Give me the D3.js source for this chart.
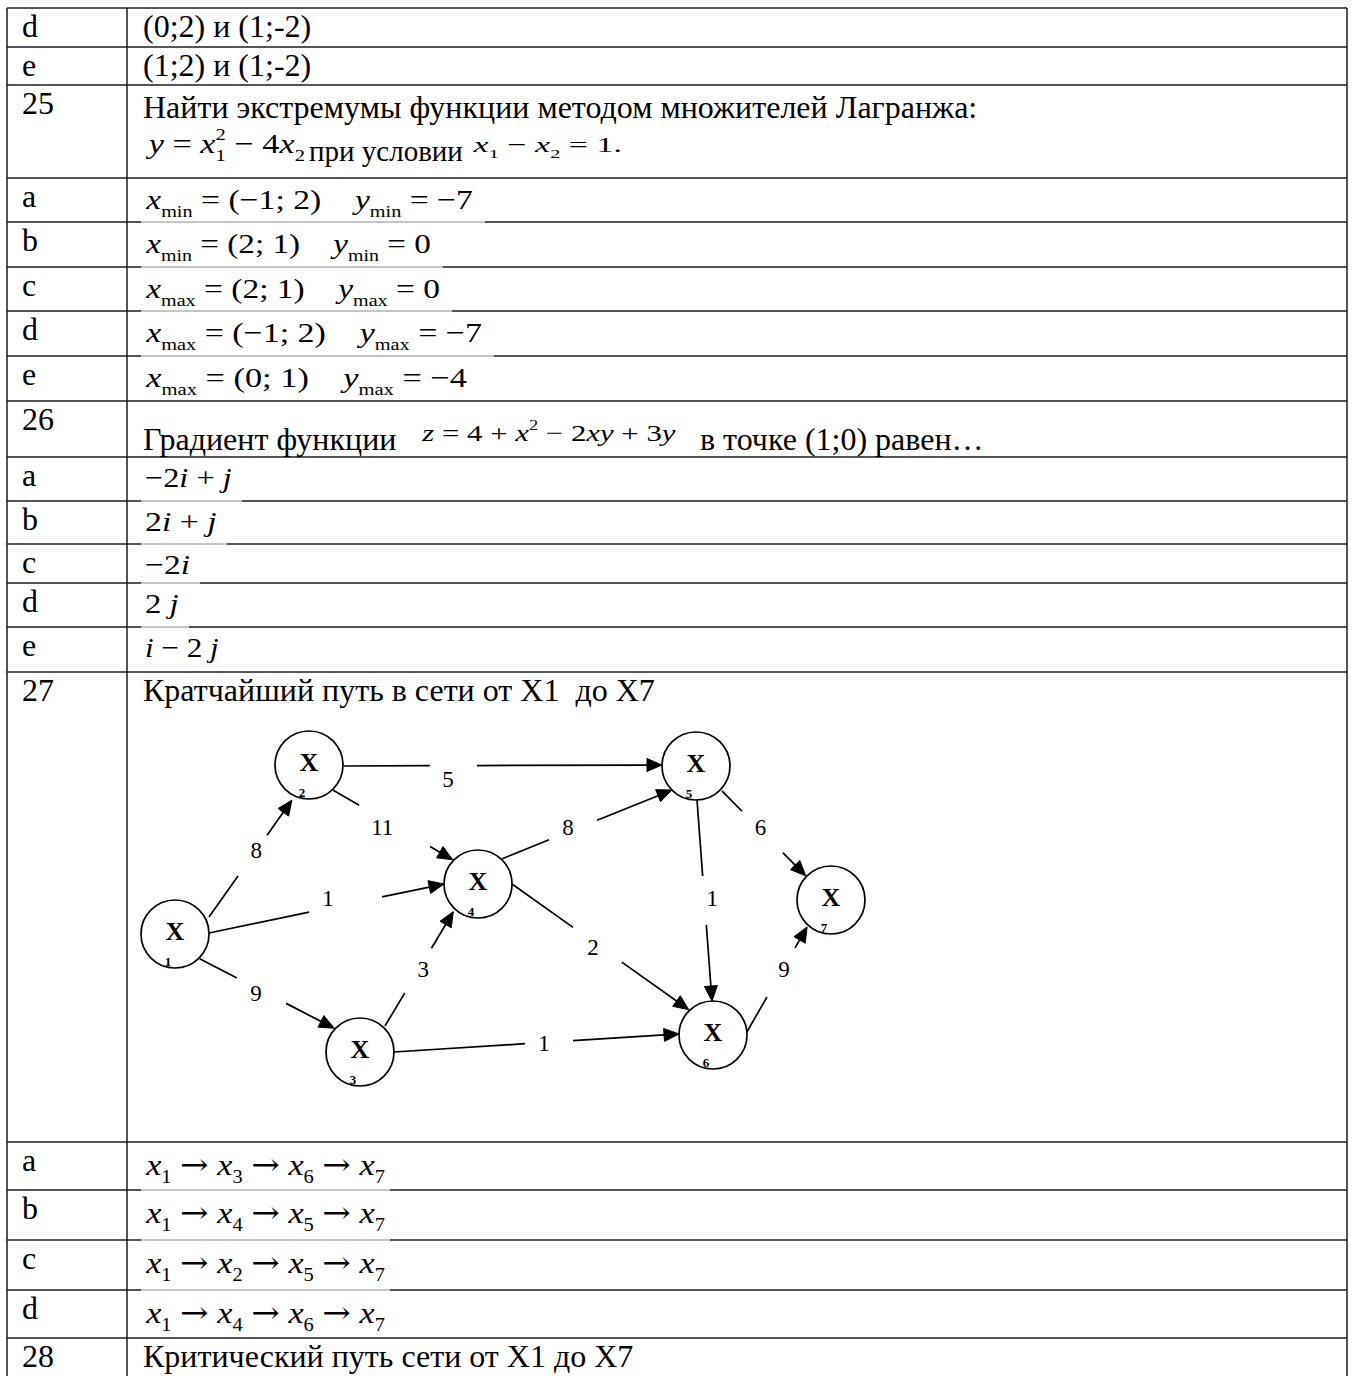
<!DOCTYPE html>
<html><head><meta charset="utf-8">
<script src="https://cdn.jsdelivr.net/npm/d3@7"></script>
<style>body{margin:0;background:#fff}svg{display:block}text{white-space:pre}</style>
</head><body><svg id="c" width="1354" height="1376"></svg>
<script>
// ---------- DATA ----------
const rowLabels = ["d","e","25","a","b","c","d","e","26","a","b","c","d","e","27","a","b","c","d","28"];
const q24Options = ["(0;2) и (1;-2)", "(1;2) и (1;-2)"];
const q25Text = "Найти экстремумы функции методом множителей Лагранжа:";
const q25Func = "y = x_{1}^{2} − 4x_{2}";
const q25Cond = "при условии";
const q25Constraint = "x_{1} − x_{2} = 1.";
const q25Options = [
  "x_{min} = (−1; 2)    y_{min} = −7",
  "x_{min} = (2; 1)    y_{min} = 0",
  "x_{max} = (2; 1)    y_{max} = 0",
  "x_{max} = (−1; 2)    y_{max} = −7",
  "x_{max} = (0; 1)    y_{max} = −4"
];
const q26Lead = "Градиент функции";
const q26Func = "z = 4 + x^{2} − 2xy + 3y";
const q26Tail = "в точке (1;0) равен…";
const q26Options = ["−2i + j", "2i + j", "−2i", "2 j", "i − 2 j"];
const q27Text = "Кратчайший путь в сети от X1  до X7";
const q27Options = [
  "x_{1} → x_{3} → x_{6} → x_{7}",
  "x_{1} → x_{4} → x_{5} → x_{7}",
  "x_{1} → x_{2} → x_{5} → x_{7}",
  "x_{1} → x_{4} → x_{6} → x_{7}"
];
const q28Text = "Критический путь сети от X1 до X7";

// network (node layout coordinates in graph units)
const nodeIds = [1,2,3,4,5,6,7];
const nodeGX  = [35,169,220,338,556,573,691];
const nodeGY  = [204,35,322,154,36,305,170];
const edgeFrom   = [1,1,1,2,2,3,3,4,4,5,5,6];
const edgeTo     = [2,4,3,4,5,4,6,5,6,6,7,7];
const edgeWeight = [8,1,9,11,5,3,1,8,2,1,6,9];

// ---------- LAYOUT ----------
const rowHeights = [39,38,93,44,45,44,45,45,56,44,43,39,44,45,470,48,50,50,48,60];
const tableLeft = 7, colDiv = 127, tableRight = 1347, tableTop = 8;
const serif = '"Liberation Serif","Times New Roman",serif';
const FS = 32;
const q25OptW = [328,286,295,337,322];
const q26OptW = [87,72,45,34,74];
const q27OptW = [240,240,240,240];
const edgeLayout = [
  {a0:-26.6,d0:38,a1:115.9,d1:39,g0:.35,g1:.70,tl:.571,ox:0,oy:0},
  {a0:-1.7,d0:34,a1:180,d1:34,g0:.426,g1:.736,tl:.506,ox:0,oy:-10},
  {a0:45,d0:35,a1:-137.3,d1:35,g0:.276,g1:.642,tl:.418,ox:0,oy:5},
  {a0:46.2,d0:35,a1:-136.2,d1:35,g0:.217,g1:.81,tl:.41,ox:0,oy:8},
  {a0:1.6,d0:35,a1:181.7,d1:34,g0:.27,g1:.418,tl:.327,ox:0,oy:13},
  {a0:-46.1,d0:36,a1:131.8,d1:37,g0:.29,g1:.68,tl:.5,ox:4,oy:0},
  {a0:0,d0:34,a1:181.7,d1:34,g0:.46,g1:.628,tl:.526,ox:0,oy:0},
  {a0:-46.2,d0:35,a1:135,d1:34,g0:.276,g1:.559,tl:.388,ox:0,oy:-5},
  {a0:0,d0:34,a1:-133.8,d1:35,g0:.345,g1:.621,tl:.458,ox:0,oy:5},
  {a0:88.3,d0:34,a1:-91.7,d1:34,g0:.378,g1:.622,tl:.488,ox:8,oy:0},
  {a0:43.9,d0:36,a1:-136.2,d1:35,g0:.238,g1:.726,tl:.46,ox:0,oy:-3},
  {a0:-5,d0:34,a1:131.6,d1:36,g0:.333,g1:.80,tl:.6,ox:1,oy:0}
];

const svg = d3.select('#c');

function parseMath(s){
  const runs=[]; let i=0;
  while(i<s.length){
    const c=s[i];
    if((c==='_'||c==='^') && s[i+1]==='{'){
      const j=s.indexOf('}',i);
      runs.push({text:s.slice(i+2,j),style:'n',level:c==='_'?-1:1});
      i=j+1; continue;
    }
    const st=/[a-zA-Z]/.test(c)?'i':(c==='→'?'a':'n');
    const last=runs[runs.length-1];
    if(last && last.level===0 && last.style===st) last.text+=c;
    else runs.push({text:c,style:st,level:0});
    i++;
  }
  return runs;
}

function drawMath(parent, str, x0, y, size, targetW){
  const t=parent.append('text').attr('font-family',serif).attr('font-size',size).attr('fill','#000');
  let shift=0, prev=null;
  parseMath(str).forEach(r=>{
    const fs=r.level?size*0.6:size;
    const tgt=r.level===-1?size*0.27:(r.level===1?-size*0.45:0);
    const ts=t.append('tspan').attr('font-size',fs)
      .attr('font-style',r.style==='i'?'italic':'normal')
      .attr('dy',tgt-shift).text(r.text);
    if(r.style==='a') ts.attr('font-family','"DejaVu Serif",serif');
    if(r.level===1 && prev && prev.level===-1) ts.attr('dx',-prev.node.getComputedTextLength());
    shift=tgt; prev={level:r.level,node:ts.node()};
  });
  const bb=t.node().getBBox();
  const sx=targetW?targetW/bb.width:1;
  t.attr('transform',`translate(${x0-bb.x*sx},${y}) scale(${sx},1)`);
  return x0+(targetW||bb.width);
}
function drawText(parent,str,x,y,size){
  return parent.append('text').attr('x',x).attr('y',y).attr('font-family',serif)
    .attr('font-size',size||FS).attr('fill','#000').text(str);
}

function render(){
  const tops=[tableTop]; rowHeights.forEach((h,i)=>tops.push(tops[i]+h));
  const gridG=svg.append('g');
  const textG=svg.append('g');

  gridG.selectAll('line.h').data(rowLabels).join('line').attr('class','h')
    .attr('x1',tableLeft).attr('x2',tableRight)
    .attr('y1',(d,i)=>tops[i]).attr('y2',(d,i)=>tops[i])
    .attr('stroke','#1c1c1c').attr('stroke-width',1.5);
  gridG.selectAll('line.v').data([tableLeft,colDiv,tableRight]).join('line').attr('class','v')
    .attr('x1',d=>d).attr('x2',d=>d).attr('y1',tableTop).attr('y2',1376)
    .attr('stroke','#1c1c1c').attr('stroke-width',1.5);

  textG.selectAll('text.lab').data(rowLabels).join('text').attr('class','lab')
    .attr('x',22).attr('y',(d,i)=>tops[i]+29)
    .attr('font-family',serif).attr('font-size',FS).text(d=>d);

  const X0=143;
  q24Options.forEach((s,i)=>drawText(textG,s,X0,tops[i]+29));
  drawText(textG,q25Text,X0,tops[2]+33);
  drawMath(textG,q25Func,145,tops[2]+68,28,160);
  drawText(textG,q25Cond,309,tops[2]+76,29);
  drawMath(textG,q25Constraint,472,tops[2]+67,22,150);
  const lightSegs=[];
  q25Options.forEach((s,i)=>{
    const r=3+i; const end=drawMath(textG,s,145,tops[r]+31,28,q25OptW[i]);
    if(i<4) lightSegs.push({y:tops[r+1],x2:end+12});
  });
  drawText(textG,q26Lead,X0,tops[8]+49);
  drawMath(textG,q26Func,421,tops[8]+40,24,255);
  drawText(textG,q26Tail,700,tops[8]+49);
  q26Options.forEach((s,i)=>{
    const r=9+i; const end=drawMath(textG,s,145,tops[r]+30,28,q26OptW[i]);
    if(i<4) lightSegs.push({y:tops[r+1],x2:end+10});
  });
  drawText(textG,q27Text,X0,tops[14]+29);
  q27Options.forEach((s,i)=>{
    const r=15+i; const end=drawMath(textG,s,145,tops[r]+33,30,q27OptW[i]);
    if(i<3) lightSegs.push({y:tops[r+1],x2:end+5});
  });
  drawText(textG,q28Text,X0,tops[19]+29);

  gridG.selectAll('line.lt').data(lightSegs).join('line').attr('class','lt')
    .attr('x1',141).attr('x2',d=>d.x2).attr('y1',d=>d.y).attr('y2',d=>d.y)
    .attr('stroke','#fff').attr('stroke-width',2);
  gridG.selectAll('line.lt2').data(lightSegs).join('line').attr('class','lt2')
    .attr('x1',141).attr('x2',d=>d.x2).attr('y1',d=>d.y).attr('y2',d=>d.y)
    .attr('stroke','#8a8a8a').attr('stroke-width',1);

  // ---------- network ----------
  const gx=d3.scaleLinear().domain([0,760]).range([140,900]);
  const gy=d3.scaleLinear().domain([0,370]).range([730,1100]);
  const R=gx(34)-gx(0);
  const nodes=nodeIds.map((id,i)=>({id,x:gx(nodeGX[i]),y:gy(nodeGY[i])}));
  const rad=a=>a*Math.PI/180;
  const edges=edgeFrom.map((f,i)=>{
    const s=nodes[f-1], t=nodes[edgeTo[i]-1], L=edgeLayout[i];
    const S=[s.x+L.d0*Math.cos(rad(L.a0)), s.y+L.d0*Math.sin(rad(L.a0))];
    const E=[t.x+L.d1*Math.cos(rad(L.a1)), t.y+L.d1*Math.sin(rad(L.a1))];
    const P=k=>[S[0]+k*(E[0]-S[0]), S[1]+k*(E[1]-S[1])];
    const len=Math.hypot(E[0]-S[0],E[1]-S[1]);
    const u=[(E[0]-S[0])/len,(E[1]-S[1])/len];
    return {w:edgeWeight[i],S,E,P,u,L};
  });
  const ng=svg.append('g');
  const AL=15, AW=6.5;
  edges.forEach(e=>{
    const a=e.P(e.L.g0), b=e.P(e.L.g1);
    const base=[e.E[0]-AL*e.u[0], e.E[1]-AL*e.u[1]];
    ng.append('path').attr('d',d3.line()([e.S,a])).attr('stroke','#000').attr('stroke-width',1.7).attr('fill','none');
    ng.append('path').attr('d',d3.line()([b,base])).attr('stroke','#000').attr('stroke-width',1.7).attr('fill','none');
    const px=-e.u[1], py=e.u[0];
    ng.append('path').attr('d',d3.line()([e.E,[base[0]+AW*px,base[1]+AW*py],[base[0]-AW*px,base[1]-AW*py]])+'Z')
      .attr('fill','#000').attr('stroke','#000').attr('stroke-width',1).attr('stroke-linejoin','miter');
    const lp=e.P(e.L.tl);
    ng.append('text').attr('x',lp[0]+e.L.ox).attr('y',lp[1]+e.L.oy+8)
      .attr('text-anchor','middle').attr('font-family',serif).attr('font-size',23).text(e.w);
  });
  const nodeG=ng.selectAll('g.node').data(nodes).join('g').attr('class','node')
    .attr('transform',d=>`translate(${d.x},${d.y})`);
  nodeG.append('circle').attr('r',R).attr('fill','#fff').attr('stroke','#000').attr('stroke-width',1.7);
  nodeG.append('text').attr('y',6).attr('text-anchor','middle').attr('font-family',serif)
    .attr('font-weight','bold').attr('font-size',26).text('X');
  nodeG.append('text').attr('x',-7).attr('y',32).attr('text-anchor','middle').attr('font-family',serif)
    .attr('font-weight','bold').attr('font-size',13).text(d=>d.id);
}
if(document.fonts && document.fonts.ready){ document.fonts.ready.then(render); } else render();
</script>
</body></html>
